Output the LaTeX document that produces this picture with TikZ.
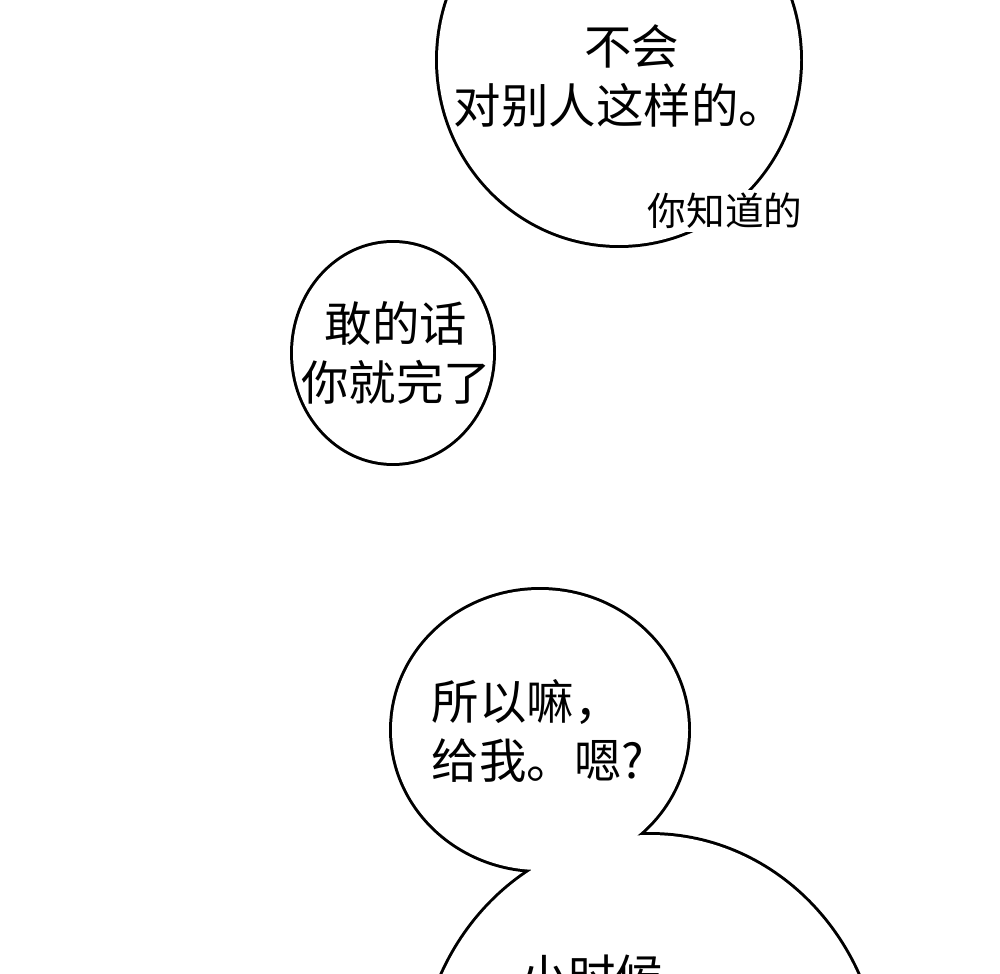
\documentclass[tikz,border=0pt]{standalone}
\usepackage{fontspec}
\newfontfamily\cjk{Noto Sans CJK SC}
\newfontfamily\cjkfino{Noto Sans CJK SC Light}
\begin{document}
\begin{tikzpicture}[x=0.02cm, y=-0.02cm]

    % estilos
    \tikzstyle{contorno}=[draw=black, line width=3.4pt]
    \tikzstyle{miolo}=[fill=white]
    \tikzstyle{fala}=[font=\cjk\fontsize{27}{34}\selectfont, align=center, inner sep=0pt]
    \tikzstyle{sussurro}=[font=\cjk\fontsize{22}{24}\selectfont, fill=white, inner sep=2pt]

    \clip (0,0) rectangle (1000,973);
    \fill[white] (0,0) rectangle (1000,973);

    % balao de cima
    \draw[contorno] (619,60) ellipse [x radius=181, y radius=185];
    \fill[miolo] (619,60) ellipse [x radius=181, y radius=185];
    \node[fala] (topo) at (620,76) {\hspace*{0.5em}不会\\对别人这样的。};
    \node[sussurro] (aparte) at (725,211) {你知道的};

    % balao do meio
    \draw[contorno] (393,353) ellipse [x radius=100, y radius=110];
    \fill[miolo] (393,353) ellipse [x radius=100, y radius=110];
    \node[fala] (meio) at (396,353) {敢的话\\你就完了};

    % baloes de baixo (unidos)
    \draw[contorno] (540,730) ellipse [x radius=148, y radius=140];
    \draw[contorno] (650,1080) ellipse [x radius=230, y radius=245];
    \fill[miolo] (540,730) ellipse [x radius=148, y radius=140];
    \fill[miolo] (650,1080) ellipse [x radius=230, y radius=245];
    \node[fala, align=left] (baixo) at (538,731) {所以嘛，\\给我。嗯?};
    \node[fala] (corte) at (592,977) {小时候};

\end{tikzpicture}
\end{document}
